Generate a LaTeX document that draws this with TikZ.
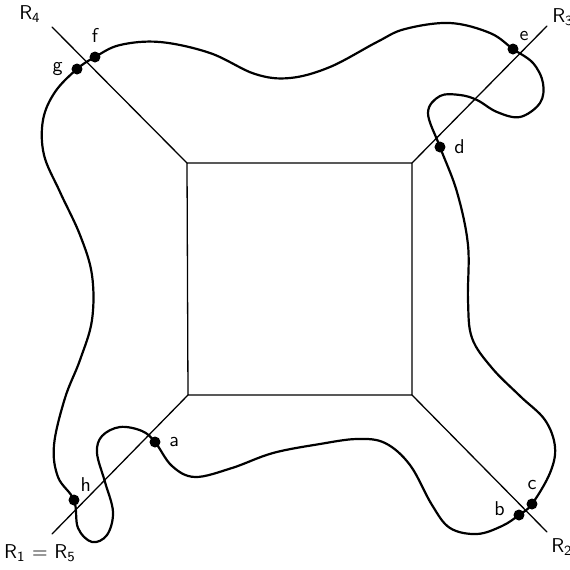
\documentclass[tikz,border=0pt]{standalone}
\usepackage{tikz}
\usetikzlibrary{positioning}
\tikzset{
  ray/.style={line width=0.65pt, line cap=round},
  curve/.style={line width=1.1pt, line join=round},
  pt/.style={circle, fill=black, inner sep=0pt, minimum size=5.5pt},
  lbl/.style={font=\sffamily, inner sep=1pt},
}

\begin{document}
\begin{tikzpicture}[x=0.5pt,y=-0.5pt]
  \useasboundingbox (0,0) rectangle (570,570);

  % square and rays
  \coordinate (sq1) at (188,395);
  \coordinate (sq2) at (412,395);
  \coordinate (sq3) at (412,163);
  \coordinate (sq4) at (187,163);
  \coordinate (r1) at (52,534);
  \coordinate (r2) at (547,532);
  \coordinate (r3) at (547,26);
  \coordinate (r4) at (52,27);

  \draw[ray] (sq1) -- (sq2) -- (sq3) -- (sq4) -- cycle;
  \draw[ray] (sq1) -- (r1);
  \draw[ray] (sq2) -- (r2);
  \draw[ray] (sq3) -- (r3);
  \draw[ray] (sq4) -- (r4);

  \node[lbl] (lr4) at (30,14) {R\textsubscript{4}};
  \node[lbl] (lr3) at (563,17) {R\textsubscript{3}};
  \node[lbl] (lr2) at (562,547) {R\textsubscript{2}};
  \node[lbl] (lr1) at (40,553) {R\textsubscript{1} = R\textsubscript{5}};

  % closed curve
  \draw[curve] plot[smooth cycle, tension=0.6] coordinates {
    (155,442) (172,466) (195,477) (232,468) (273,453) (320,444) (357,439)
    (385,443) (410,465) (432,505) (450,528) (477,534) (502,526) (519,515)
    (532,504) (550,473) (555,447) (545,420) (520,396) (492,368) (472,338)
    (468,300) (468,245) (457,192) (440,147) (428,113) (440,96)
    (460,95) (477,100) (497,112) (520,117) (540,103) (543,83) (533,63)
    (513,49) (490,33) (450,23) (405,29) (377,42) (330,67) (290,78)
    (255,74) (210,53) (160,42) (120,45) (95,57) (77,69) (55,92) (43,120)
    (44,155) (60,192) (80,235) (92,275) (92,320) (80,360) (65,398)
    (54,445) (58,477) (74,500) (78,528) (92,542) (107,535) (113,512)
    (105,482) (97,453) (102,436) (120,427) (142,431)
  };

  % marked points
  \node[pt] (a) at (155,442) {};
  \node[pt] (b) at (519,515) {};
  \node[pt] (c) at (532,504) {};
  \node[pt] (d) at (440,147) {};
  \node[pt] (e) at (513,49) {};
  \node[pt] (f) at (95,57) {};
  \node[pt] (g) at (77,69) {};
  \node[pt] (h) at (74,500) {};

  \node[lbl, right=3pt of a] (la) {a};
  \node[lbl, left=3pt of b, yshift=3pt] (lb) {b};
  \node[lbl, above=3pt of c] (lc) {c};
  \node[lbl, right=3pt of d] (ld) {d};
  \node[lbl, above right=1pt and 0pt of e] (le) {e};
  \node[lbl, above=3pt of f] (lf) {f};
  \node[lbl, left=3pt of g] (lg) {g};
  \node[lbl, above right=1pt and 0pt of h] (lh) {h};
\end{tikzpicture}
\end{document}
